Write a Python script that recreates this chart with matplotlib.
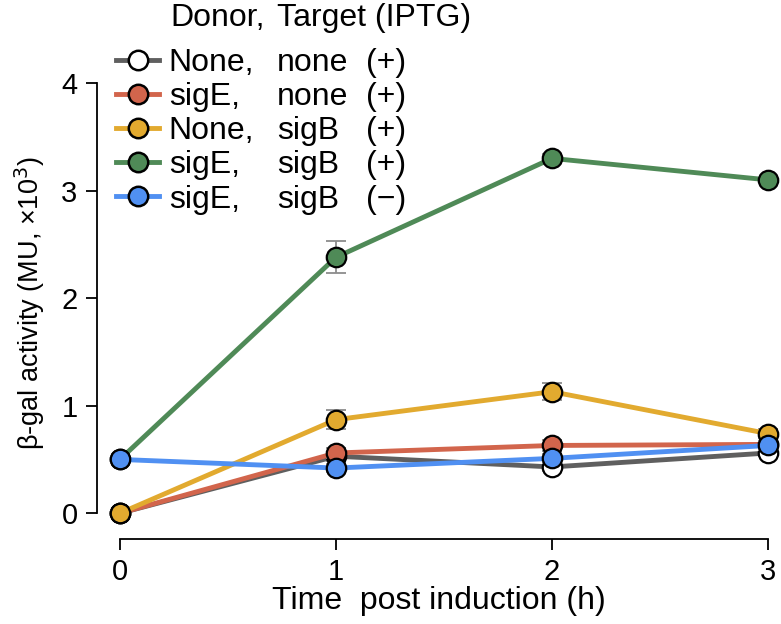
import matplotlib
matplotlib.use("Agg")
import matplotlib.pyplot as plt
from matplotlib.lines import Line2D
from matplotlib.text import Annotation

plt.rcParams["font.family"] = ["Liberation Sans", "DejaVu Sans"]

# time points (h)
t = [0, 1, 2, 3]

# series: donor, target, IPTG
donors = ["None,", "sigE,", "None,", "sigE,", "sigE,"]
targets = ["none", "none", "sigB", "sigB", "sigB"]
iptg = ["(+)", "(+)", "(+)", "(+)", "(\u2212)"]

vals = [
    [0.0, 0.53, 0.43, 0.56],
    [0.0, 0.56, 0.63, 0.64],
    [0.0, 0.87, 1.13, 0.74],
    [0.50, 2.38, 3.30, 3.10],
    [0.50, 0.42, 0.51, 0.63],
]
errs = [
    [0.02, 0.04, 0.04, 0.03],
    [0.02, 0.05, 0.05, 0.03],
    [0.02, 0.09, 0.08, 0.04],
    [0.03, 0.15, 0.04, 0.02],
    [0.03, 0.04, 0.04, 0.04],
]
line_cols = ["#5f5f5f", "#d2654c", "#e2aa2f", "#4f8a57", "#5090f2"]
face_cols = ["white", "#d2654c", "#e2aa2f", "#4f8a57", "#5090f2"]

fig = plt.figure(figsize=(7.81, 6.24), dpi=100)
ax = fig.add_axes([97 / 781, 85 / 624, 684 / 781, 472 / 624])

handles = []
for i in range(len(vals)):
    ax.errorbar(t, vals[i], yerr=errs[i], fmt="none", ecolor="#8c8c8c",
                elinewidth=1.3, capsize=7, capthick=1.3, zorder=2 + i * 2)
    ax.plot(t, vals[i], color=line_cols[i], lw=3.5, zorder=3 + i * 2,
            marker="o", ms=14, mfc=face_cols[i], mec="black", mew=1.6)
    handles.append(Line2D([], [], color=line_cols[i], lw=3.5, marker="o",
                          ms=14, mfc=face_cols[i], mec="black", mew=1.8))

ax.set_xlim(-0.106, 3.06)
ax.set_ylim(-0.24, 4.15)
ax.set_xticks([0, 1, 2, 3])
ax.set_yticks([0, 1, 2, 3, 4])
ax.spines["top"].set_visible(False)
ax.spines["right"].set_visible(False)
ax.spines["left"].set_bounds(0, 4)
ax.spines["bottom"].set_bounds(0, 3)
ax.spines["left"].set_linewidth(1.3)
ax.spines["bottom"].set_linewidth(1.3)
ax.tick_params(length=8, width=1.3, labelsize=21, pad=6)
ax.set_xlabel("Time  post induction (h)", fontsize=23, labelpad=0)
ax.set_ylabel("\u03b2-gal activity (MU, \u00d710$^3$)", fontsize=19.5, labelpad=10)
ax.patch.set_visible(False)

leg = fig.legend(handles, donors, loc="upper left",
                 bbox_to_anchor=(116 / 781, 1 - 48 / 624), frameon=False,
                 fontsize=23, handlelength=1.35, handletextpad=0.3,
                 labelspacing=0.13, borderpad=0, borderaxespad=0)
leg.set_zorder(5)
for i, txt in enumerate(leg.get_texts()):
    for col_x, s in ((277, targets[i]), (366, iptg[i])):
        a = Annotation(s, xy=(col_x / 781, 0.5),
                       xycoords=("figure fraction", txt),
                       va="center", ha="left", fontsize=23)
        a.set_zorder(10)
        fig.add_artist(a)

fig.text(170 / 781, 1 - 18 / 624, "Donor,", fontsize=23, va="center", ha="left")
fig.text(277 / 781, 1 - 18 / 624, "Target (IPTG)", fontsize=23, va="center", ha="left")

fig.savefig("out.png", dpi=100)
